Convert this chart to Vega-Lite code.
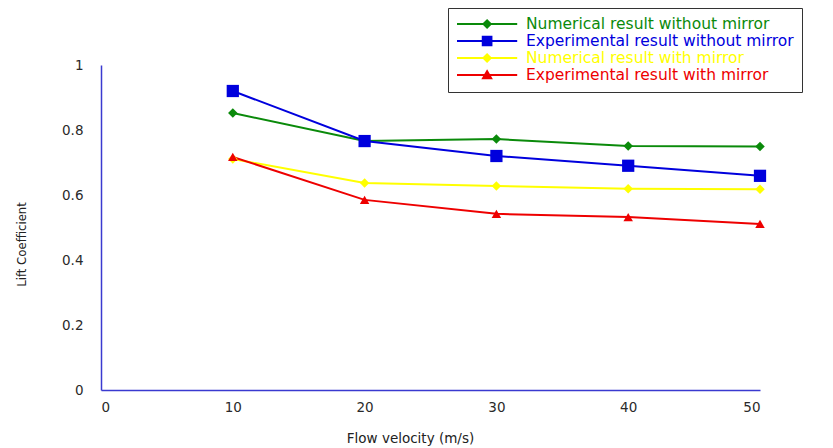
{
  "$schema": "https://vega.github.io/schema/vega-lite/v6.json",
  "autosize": "none",
  "width": 659,
  "height": 325,
  "padding": {"left": 101, "top": 65, "right": 73, "bottom": 58},
  "background": "white",
  "config": {
    "view": {"stroke": null},
    "font": "DejaVu Sans",
    "axis": {"grid": false, "ticks": false, "domainColor": "#3a3ad0", "domainWidth": 1.5, "labelFont": "DejaVu Sans", "labelFontSize": 13.5, "labelColor": "#2a2a2a", "titleFont": "DejaVu Sans", "titleFontWeight": "normal", "titleColor": "#222"}
  },
  "data": {
    "values": [
      {"v": 10, "cl": 0.852, "series": "Numerical result without mirror"},
      {"v": 20, "cl": 0.766, "series": "Numerical result without mirror"},
      {"v": 30, "cl": 0.772, "series": "Numerical result without mirror"},
      {"v": 40, "cl": 0.751, "series": "Numerical result without mirror"},
      {"v": 50, "cl": 0.749, "series": "Numerical result without mirror"},
      {"v": 10, "cl": 0.92, "series": "Experimental result without mirror"},
      {"v": 20, "cl": 0.766, "series": "Experimental result without mirror"},
      {"v": 30, "cl": 0.72, "series": "Experimental result without mirror"},
      {"v": 40, "cl": 0.69, "series": "Experimental result without mirror"},
      {"v": 50, "cl": 0.659, "series": "Experimental result without mirror"},
      {"v": 10, "cl": 0.711, "series": "Numerical result with mirror"},
      {"v": 20, "cl": 0.637, "series": "Numerical result with mirror"},
      {"v": 30, "cl": 0.628, "series": "Numerical result with mirror"},
      {"v": 40, "cl": 0.619, "series": "Numerical result with mirror"},
      {"v": 50, "cl": 0.618, "series": "Numerical result with mirror"},
      {"v": 10, "cl": 0.717, "series": "Experimental result with mirror"},
      {"v": 20, "cl": 0.585, "series": "Experimental result with mirror"},
      {"v": 30, "cl": 0.542, "series": "Experimental result with mirror"},
      {"v": 40, "cl": 0.532, "series": "Experimental result with mirror"},
      {"v": 50, "cl": 0.511, "series": "Experimental result with mirror"}
    ]
  },
  "encoding": {
    "x": {"field": "v", "type": "quantitative", "scale": {"domain": [0, 50], "nice": false}, "axis": {"values": [0, 10, 20, 30, 40, 50], "title": "Flow velocity (m/s)", "titleFontSize": 13.5, "labelPadding": 10, "titleX": 309, "titleY": 48, "titleBaseline": "middle"}},
    "y": {"field": "cl", "type": "quantitative", "scale": {"domain": [0, 1], "nice": false}, "axis": {"values": [0, 0.2, 0.4, 0.6, 0.8, 1], "format": ".1~f", "title": "Lift Coefficient", "titleFont": "DejaVu Sans Condensed, Liberation Sans", "titleFontSize": 13, "labelPadding": 18, "titleX": -80, "titleY": 179, "titleAngle": -90, "titleBaseline": "middle"}},
    "color": {
      "field": "series", "type": "nominal",
      "scale": {
        "domain": ["Numerical result without mirror", "Experimental result without mirror", "Numerical result with mirror", "Experimental result with mirror"],
        "range": ["#0a8a0a", "#0000dd", "#ffff00", "#ee0000"]
      },
      "legend": {
        "title": null, "orient": "none", "legendX": 347, "legendY": -57,
        "strokeColor": "#333", "fillColor": "white", "padding": 8,
        "labelFontSize": 15.5, "labelFont": "DejaVu Sans", "rowPadding": -6.5, "labelOffset": 54, "labelLimit": 400,
        "symbolSize": 196, "symbolStrokeWidth": 2,
        "encode": {
          "labels": {"update": {"fill": {"scale": "color", "field": "value"}}},
          "symbols": {"update": {
            "fill": {"scale": "color", "field": "value"},
            "stroke": {"scale": "color", "field": "value"},
            "strokeWidth": {"value": 2},
            "size": {"value": 196},
            "opacity": {"value": 1},
            "shape": {"signal": "datum.value == 'Experimental result without mirror' ? 'M-1,0H7.6M2.68,-0.62H3.92V0.62H2.68Z' : (datum.value == 'Experimental result with mirror' ? 'M-1,0H7.6M2.72,0.45L3.3,-0.55L3.88,0.45Z' : 'M-1,0H7.6M2.78,0L3.3,-0.52L3.82,0L3.3,0.52Z')"}
          }}
        }
      }
    }
  },
  "layer": [
    {
      "mark": {"type": "line", "strokeWidth": 2}
    },
    {
      "transform": [{"filter": "datum.series == 'Numerical result without mirror' || datum.series == 'Numerical result with mirror'"}],
      "mark": {"type": "point", "filled": true, "opacity": 1, "shape": "diamond", "size": 90}
    },
    {
      "transform": [{"filter": "datum.series == 'Experimental result without mirror'"}],
      "mark": {"type": "point", "filled": true, "opacity": 1, "shape": "square", "size": 150}
    },
    {
      "transform": [{"filter": "datum.series == 'Experimental result with mirror'"}],
      "mark": {"type": "point", "filled": true, "opacity": 1, "shape": "triangle-up", "size": 90}
    }
  ]
}
